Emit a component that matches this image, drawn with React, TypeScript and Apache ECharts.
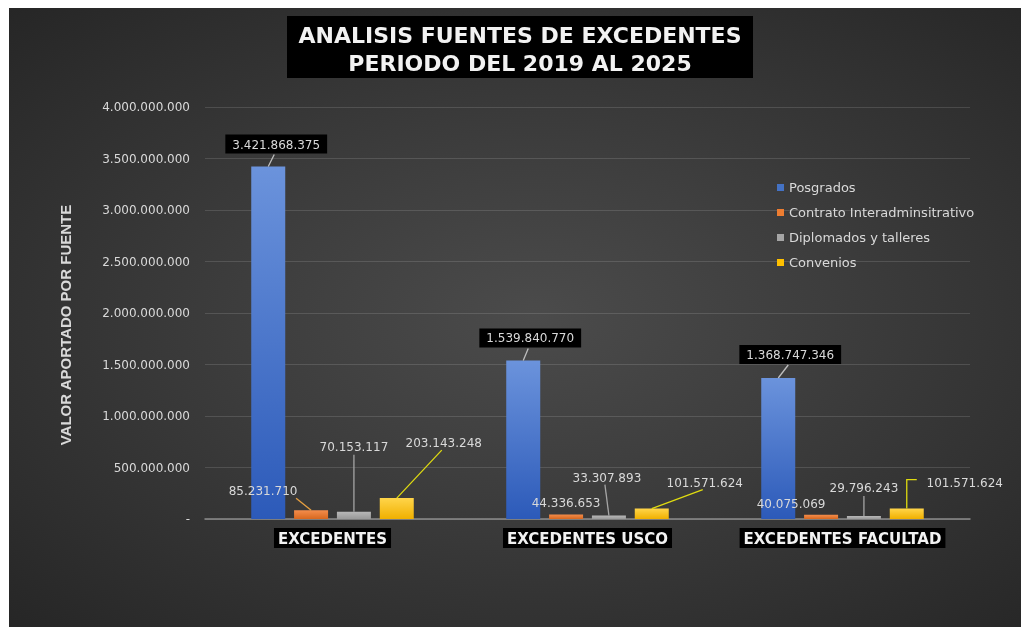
import React, { useEffect, useRef } from "react";
import * as echarts from "echarts";

const categories = ["EXCEDENTES", "EXCEDENTES USCO", "EXCEDENTES FACULTAD"];
const seriesNames = ["Posgrados", "Contrato Interadminsitrativo", "Diplomados y talleres", "Convenios"];
const posgrados = [3421868375, 1539840770, 1368747346];
const contrato = [85231710, 44336653, 40075069];
const diplomados = [70153117, 33307893, 29796243];
const convenios = [203143248, 101571624, 101571624];
const titleLines = ["ANALISIS FUENTES DE EXCEDENTES", "PERIODO DEL 2019 AL 2025"];
const yAxisTitle = "VALOR APORTADO POR FUENTE";

const fmt = (n: number) => (n === 0 ? "-" : String(Math.round(n)).replace(/\B(?=(\d{3})+(?!\d))/g, "."));

// label offsets (dx, dy, leader-line kind) per series / category
const labelOffsets: [number, number, string][][] = [
  [[8, -8, "b"], [7, -8, "b"], [12, -9, "b"]],
  [[-48, -8, "br"], [0, 0, "n"], [-30, 0, "n"]],
  [[0, -54, "v"], [-2, -27, "b"], [0, -17, "v"]],
  [[47, -44, "b"], [53, -15, "b"], [58, -15, "l"]],
];

const BAR_W = 34;
const BAR_GAP = 0.26;
const LABEL_DIST = 5;

const grad = (top: string, bottom: string) =>
  new echarts.graphic.LinearGradient(0, 0, 0, 1, [
    { offset: 0, color: top },
    { offset: 1, color: bottom },
  ]);

export default function App() {
  const ref = useRef<HTMLDivElement>(null);
  useEffect(() => {
    if (!ref.current) return;
    const chart = echarts.init(ref.current, null, { renderer: "svg" });
    const numFont = "DejaVu Sans";
    const plainLabel = {
      show: true,
      position: "top",
      distance: LABEL_DIST,
      color: "#d9d9d9",
      fontSize: 12,
      fontFamily: numFont,
      formatter: (p: any) => fmt(p.value),
    };
    const dataSets = [posgrados, contrato, diplomados, convenios];
    const colors = [
      grad("#6b93dc", "#2c5ab9"),
      grad("#f48d4c", "#d8681f"),
      grad("#b8b8b8", "#999999"),
      grad("#ffd54a", "#f0b000"),
    ];
    const legendColors = ["#4472c4", "#ed7d31", "#a5a5a5", "#ffc000"];
    const lineColors = ["#bfbfbf", "#e8a040", "#a5a5a5", "#e0dc10"];
    const barSeries = dataSets.map((d, i) => ({
      name: seriesNames[i],
      type: "bar",
      data: d,
      barWidth: BAR_W,
      barGap: BAR_GAP * 100 + "%",
      itemStyle: { color: colors[i] },
      label:
        i === 0
          ? {
              ...plainLabel,
              backgroundColor: "#000",
              padding: [4, 7, 3, 7],
            }
          : plainLabel,
      labelLayout: (p: any) => {
        const [dx, dy] = labelOffsets[p.seriesIndex][p.dataIndex];
        return { dx, dy };
      },
    }));

    const leaderData: number[][] = [];
    dataSets.forEach((d, s) => d.forEach((v, c) => leaderData.push([c, v, s])));

    const leaderSeries = {
      name: "leaders",
      type: "custom",
      coordinateSystem: "cartesian2d",
      silent: true,
      z: 3,
      data: leaderData,
      renderItem: (params: any, api: any) => {
        const c = api.value(0);
        const v = api.value(1);
        const s = api.value(2);
        const [dx, dy, kind] = labelOffsets[s][c];
        if (kind === "n") return null;
        const pt = api.coord([c, v]);
        const bx = pt[0] + (s - 1.5) * BAR_W * (1 + BAR_GAP);
        const by = pt[1];
        const labelBottom = by - LABEL_DIST + dy;
        let points: number[][];
        if (kind === "b") {
          points = [[bx, by], [bx + dx - 2, labelBottom + 1]];
        } else if (kind === "v") {
          points = [[bx, by], [bx, labelBottom + 2]];
        } else if (kind === "br") {
          points = [[bx, by], [bx + dx + 33, labelBottom + 1]];
        } else {
          const ey = labelBottom - 9;
          points = [[bx, by], [bx, ey], [bx + 10, ey]];
        }
        return {
          type: "polyline",
          shape: { points },
          style: { stroke: lineColors[s], lineWidth: 1.3, fill: "none" },
        };
      },
    };

    const option = {
      animation: false,
      color: legendColors,
      backgroundColor: "transparent",
      grid: { left: 196, right: 51, top: 99, bottom: 108, containLabel: false },
      legend: {
        orient: "vertical",
        left: 768,
        top: 173,
        padding: 0,
        itemWidth: 7,
        itemHeight: 7,
        itemGap: 12,
        icon: "rect",
        data: seriesNames.map((n, i) => ({ name: n, itemStyle: { color: legendColors[i] } })),
        textStyle: { color: "#d9d9d9", fontSize: 13, fontFamily: numFont },
      },
      xAxis: {
        type: "category",
        data: categories,
        axisLine: { lineStyle: { color: "#8c8c8c", width: 1.5 } },
        axisTick: { show: false },
        axisLabel: {
          interval: 0,
          hideOverlap: false,
          margin: 9,
          color: "#f2f2f2",
          fontSize: 15,
          fontWeight: "bold",
          fontFamily: numFont,
          backgroundColor: "#000",
          padding: [3, 4, 2, 4],
        },
      },
      yAxis: {
        type: "value",
        min: 0,
        max: 4000000000,
        interval: 500000000,
        axisLine: { show: false },
        axisTick: { show: false },
        splitLine: { lineStyle: { color: "rgba(255,255,255,0.13)", width: 1 } },
        axisLabel: {
          margin: 15,
          color: "#d9d9d9",
          fontSize: 12,
          fontFamily: numFont,
          formatter: (v: number) => fmt(v),
        },
      },
      graphic: [
        {
          type: "rect",
          shape: { x: 278, y: 8, width: 466, height: 62 },
          style: { fill: "#000" },
        },
        {
          type: "text",
          x: 511,
          y: 27,
          style: {
            text: titleLines[0],
            fill: "#f2f2f2",
            font: "bold 22px 'DejaVu Sans'",
            textAlign: "center",
            textVerticalAlign: "middle",
          },
        },
        {
          type: "text",
          x: 511,
          y: 55,
          style: {
            text: titleLines[1],
            fill: "#f2f2f2",
            font: "bold 22px 'DejaVu Sans'",
            textAlign: "center",
            textVerticalAlign: "middle",
          },
        },
        {
          type: "text",
          x: 56,
          y: 317,
          rotation: Math.PI / 2,
          style: {
            text: yAxisTitle,
            fill: "#d9d9d9",
            font: "bold 15px 'Liberation Sans'",
            textAlign: "center",
            textVerticalAlign: "middle",
          },
        },
      ],
      series: [...barSeries, leaderSeries],
    };
    chart.setOption(option);
    return () => chart.dispose();
  }, []);

  return (
    <div
      ref={ref}
      style={{
        position: "fixed",
        left: 9,
        top: 8,
        width: 1012,
        height: 619,
        background:
          "radial-gradient(ellipse at 52% 50%, #4b4b4b 0%, #3d3d3d 40%, #262626 100%)",
      }}
    />
  );
}
